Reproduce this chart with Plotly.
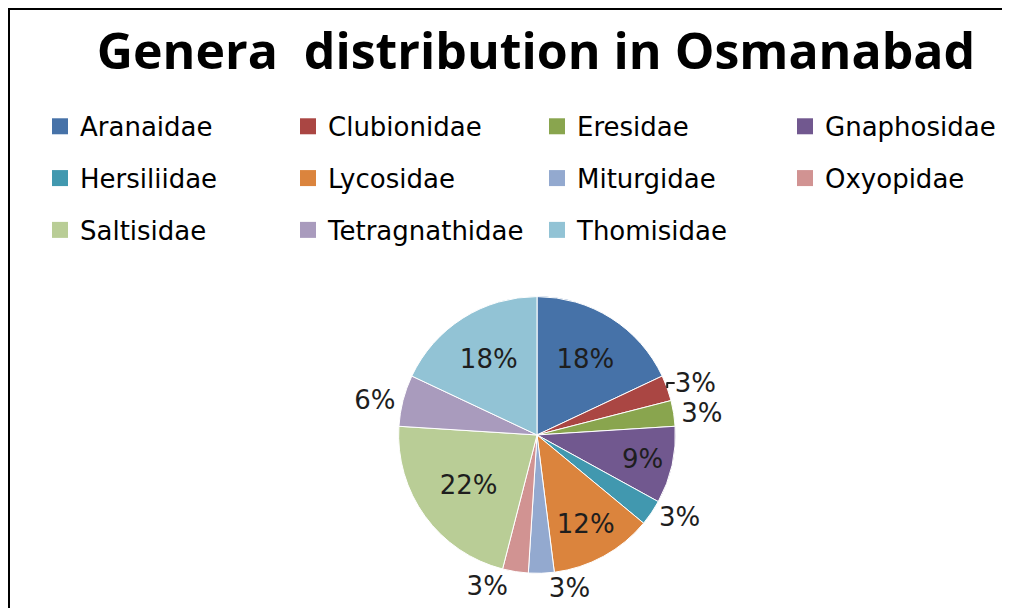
import plotly.graph_objects as go

families = ["Aranaidae", "Clubionidae", "Eresidae", "Gnaphosidae", "Hersiliidae",
            "Lycosidae", "Miturgidae", "Oxyopidae", "Saltisidae", "Tetragnathidae",
            "Thomisidae"]
shares = [18, 3, 3, 9, 3, 12, 3, 3, 22, 6, 18]
colors = ["#4672A8", "#AA4643", "#89A54E", "#71588F", "#4198AF", "#DB843D",
          "#93A9CF", "#D19392", "#B9CD96", "#A99BBD", "#92C3D5"]
text_pos = ["inside", "outside", "outside", "inside", "outside", "inside",
            "outside", "outside", "inside", "outside", "inside"]

# the page has an 8px body margin: figure px = screen px - 8
W, H = 1002, 600
TFONT = "Open Sans"
FONT = "DejaVu Sans"
N_COLS = 4

fig = go.Figure()
fig.add_trace(go.Pie(
    labels=families,
    values=shares,
    sort=False,
    direction="clockwise",
    rotation=0,
    marker=dict(colors=colors, line=dict(color="white", width=1)),
    textinfo="percent",
    texttemplate="%{percent:.0%}",
    textposition=text_pos,
    insidetextorientation="horizontal",
    textfont=dict(family=FONT, size=26, color="#1e1e1e"),
    domain=dict(x=[(529 - 140) / W, (529 + 140) / W],
                y=[1 - 572 / H, 1 - 292 / H]),
    hoverinfo="label+percent",
    showlegend=False,
))

# legend entries laid out in 4 columns (Excel-style legend)
legend_names = ["legend", "legend2", "legend3", "legend4"]
for i, (fam, col) in enumerate(zip(families, colors)):
    fig.add_trace(go.Scatter(
        x=[None], y=[None], mode="markers", name=fam,
        marker=dict(symbol="square", size=16, color=col, line=dict(width=0)),
        legend=legend_names[i % N_COLS], legendgroup=fam, hoverinfo="skip",
    ))

col_text_x = [72, 320, 569, 817]
legend_common = dict(orientation="v", yanchor="top", xanchor="left",
                     bgcolor="rgba(0,0,0,0)", tracegroupgap=15,
                     font=dict(family=FONT, size=26, color="black"),
                     traceorder="grouped")
layout_legends = {}
for name, tx in zip(legend_names, col_text_x):
    layout_legends[name] = dict(legend_common, x=(tx - 40) / W, y=1 - 96 / H)

fig.update_layout(
    width=W, height=H,
    margin=dict(l=0, r=0, t=0, b=0),
    paper_bgcolor="white",
    plot_bgcolor="white",
    xaxis=dict(visible=False),
    yaxis=dict(visible=False),
    title=dict(text="<b>Genera  distribution in Osmanabad</b>",
               x=528 / W, xanchor="center", y=1 - 43 / H, yanchor="middle",
               font=dict(family=TFONT, size=50, color="black")),
    shapes=[dict(type="rect", xref="paper", yref="paper",
                 x0=1 / W, x1=1.05, y0=-0.05, y1=1 - 1 / H,
                 line=dict(color="black", width=2))],
    **layout_legends,
)

fig.write_html("out.html")
